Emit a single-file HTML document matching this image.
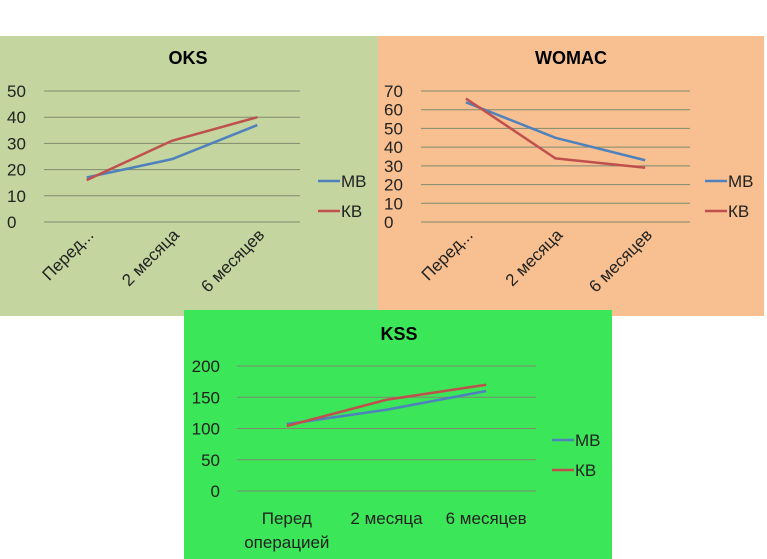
<!DOCTYPE html>
<html><head><meta charset="utf-8"><style>
body{margin:0;width:767px;height:559px;background:#fff;overflow:hidden;font-family:"Liberation Sans",sans-serif}
svg{position:absolute;left:0;top:0}
</style></head><body>
<svg width="767" height="559">
<rect x="0" y="36" width="378" height="280" fill="#c4d59f"/>
<rect x="378" y="36" width="386" height="280" fill="#f8c090"/>
<rect x="184" y="310" width="428" height="249" fill="#3be658"/>
<g id="g"></g>
</svg>
<script>
const categories=["Перед...","2 месяца","6 месяцев"];
const kssCategories=[["Перед","операцией"],["2 месяца"],["6 месяцев"]];
const oksMB=[17,24,37], oksKB=[16,31,40], oksTicks=[0,10,20,30,40,50];
const womacMB=[64,45,33], womacKB=[66,34,29], womacTicks=[0,10,20,30,40,50,60,70];
const kssMB=[107,130,160], kssKB=[104,146,170], kssTicks=[0,50,100,150,200];
const NS="http://www.w3.org/2000/svg",G=document.getElementById('g');
function mk(t,a,txt){const e=document.createElementNS(NS,t);for(const k in a)e.setAttribute(k,a[k]);if(txt!=null)e.textContent=txt;G.appendChild(e);return e;}
function chart(c){
 const max=c.ticks[c.ticks.length-1];
 const X=i=>c.x0+(c.x1-c.x0)*(i+0.5)/c.cats.length;
 const Y=v=>c.y0+(c.y1-c.y0)*(1-v/max);
 let t=mk('text',{x:c.tx,y:c.ty,'font-size':18,'font-weight':'bold','text-anchor':'middle',fill:'#000'},c.title);
 
 c.ticks.forEach(v=>{
  let l=mk('line',{x1:c.x0,x2:c.x1,y1:Y(v),y2:Y(v),stroke:'#7f8a6f','stroke-width':1});
  
  let e=mk('text',{x:c.lx,y:Y(v)+6,'font-size':17,'text-anchor':c.anchor,fill:'#222'},v);
  
 });
 c.cats.forEach((cat,i)=>{
  if(c.rot){
   let e=mk('text',{x:X(i)+8,y:c.y1+14,'font-size':17,'text-anchor':'end',fill:'#222',transform:`rotate(-45 ${X(i)+8} ${c.y1+14})`},cat);
   
  }else{
   cat.forEach((s,j)=>{let e=mk('text',{x:X(i),y:c.y1+33+j*24,'font-size':17,'text-anchor':'middle',fill:'#222'},s);
   });
  }
 });
 [[c.mb,'#4f81bd'],[c.kb,'#c0504d']].forEach(([d,col],k)=>{
  let p=mk('polyline',{points:d.map((v,i)=>X(i)+','+Y(v)).join(' '),fill:'none',stroke:col,'stroke-width':2.5});
  
  let ly=c.legY+k*30;
  let l=mk('line',{x1:c.legX,x2:c.legX+22,y1:ly,y2:ly,stroke:col,'stroke-width':2.5});
  
  let e=mk('text',{x:c.legX+23,y:ly+6,'font-size':17,fill:'#222'},k?'КВ':'МВ');
  
 });
}
chart({key:'oks',title:'OKS',tx:188,ty:64,x0:44,x1:300,y0:91,y1:222,ticks:oksTicks,mb:oksMB,kb:oksKB,cats:categories,rot:true,lx:7,anchor:'start',legX:318,legY:181});
chart({key:'womac',title:'WOMAC',tx:571,ty:64,x0:421,x1:690,y0:91,y1:222,ticks:womacTicks,mb:womacMB,kb:womacKB,cats:categories,rot:true,lx:384,anchor:'start',legX:705,legY:181});
chart({key:'kss',title:'KSS',tx:399,ty:340,x0:237,x1:536,y0:366,y1:491,ticks:kssTicks,mb:kssMB,kb:kssKB,cats:kssCategories,rot:false,lx:220,anchor:'end',legX:552,legY:440});
</script>
</body></html>
